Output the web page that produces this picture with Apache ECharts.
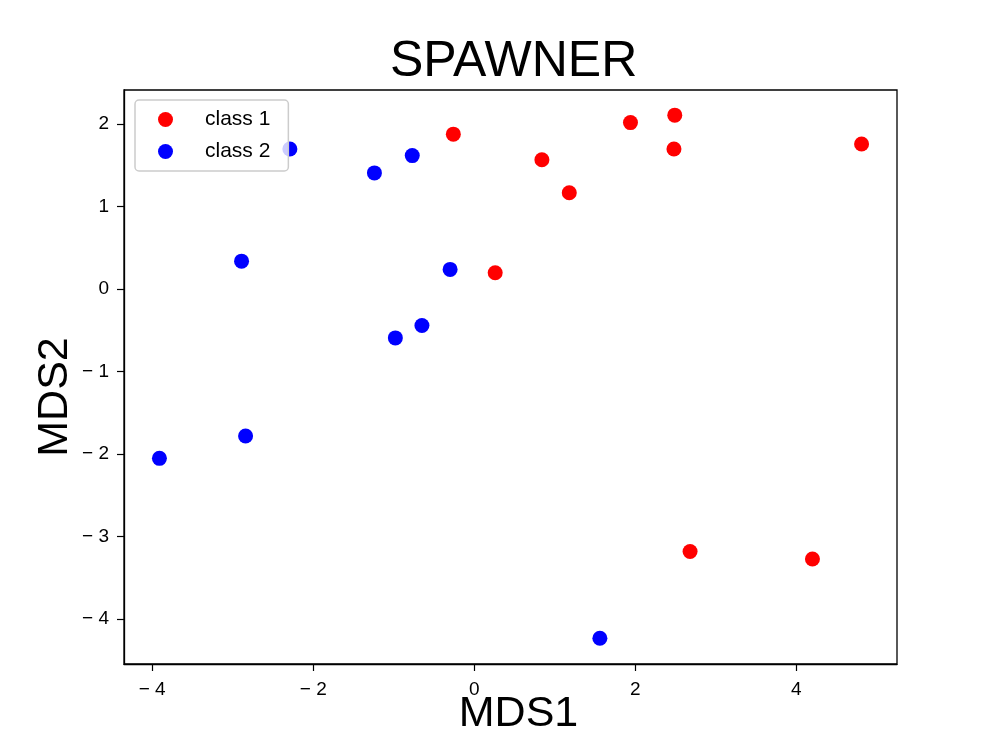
<!DOCTYPE html>
<html>
<head>
<meta charset="utf-8">
<script src="https://cdn.jsdelivr.net/npm/echarts@6/dist/echarts.min.js"></script>
<style>
  html, body { margin: 0; padding: 0; background: #fff; }
  #main { width: 997px; height: 748px; }
</style>
</head>
<body>
<div id="main"></div>
<script>
// MDS coordinates
var class1X = [-0.26, 0.84, 1.18, 1.94, 2.49, 2.48, 4.81, 0.26, 2.68, 4.20];
var class1Y = [1.88, 1.57, 1.17, 2.02, 2.11, 1.70, 1.76, 0.20, -3.18, -3.27];
var class2X = [-2.29, -0.77, -1.24, -2.89, -0.30, -0.65, -0.98, -2.84, -3.91, 1.56];
var class2Y = [1.70, 1.62, 1.41, 0.34, 0.24, -0.44, -0.59, -1.78, -2.05, -4.23];

var xTicks = [-4, -2, 0, 2, 4];
var yTicks = [-4, -3, -2, -1, 0, 1, 2];

var FONT = 'Liberation Sans';

function pairs(xs, ys) {
    var out = [];
    for (var i = 0; i < xs.length; i++) out.push([xs[i], ys[i]]);
    return out;
}

// matplotlib style minus sign
function tickFmt(v) {
    return v < 0 ? '\u2212 ' + (-v) : String(v);
}

var myChart = echarts.init(document.getElementById('main'));

var option = {
    backgroundColor: '#ffffff',
    animation: false,
    title: {
        text: 'SPAWNER',
        left: 390,
        top: 37,
        padding: 0,
        textStyle: { fontFamily: FONT, fontSize: 50, fontWeight: 'normal', color: '#000' }
    },
    legend: {
        orient: 'vertical',
        left: 135,
        top: 100,
        padding: [9, 18, 9, 23],
        itemGap: 11,
        itemWidth: 15,
        itemHeight: 15,
        icon: 'circle',
        backgroundColor: 'rgba(255,255,255,0.8)',
        borderColor: '#cccccc',
        borderWidth: 1.5,
        borderRadius: 4,
        textStyle: { fontFamily: FONT, fontSize: 21, color: '#000', lineHeight: 20, padding: [0, 0, 0, 27] },
        data: ['class 1', 'class 2']
    },
    grid: {
        left: 124,
        top: 90,
        right: 100,
        bottom: 84,
        containLabel: false,
        outerBoundsMode: 'none',
        show: true,
        borderColor: '#000',
        borderWidth: 1.3,
        backgroundColor: '#fff'
    },
    xAxis: {
        type: 'value',
        min: -4.35,
        max: 5.25,
        name: 'MDS1',
        nameLocation: 'middle',
        nameGap: 29,
        nameMoveOverlap: false,
        nameTextStyle: { fontFamily: FONT, fontSize: 43, color: '#000', padding: [0, 0, 0, 16] },
        axisLine: { show: true, onZero: false, lineStyle: { color: '#000', width: 1.3 } },
        axisTick: { show: true, length: 7, lineStyle: { color: '#000', width: 1.2 }, customValues: xTicks },
        axisLabel: { fontFamily: FONT, fontSize: 19, color: '#000', margin: 16, customValues: xTicks, formatter: tickFmt },
        splitLine: { show: false }
    },
    yAxis: {
        type: 'value',
        min: -4.543,
        max: 2.415,
        name: 'MDS2',
        nameLocation: 'middle',
        nameGap: 47,
        nameMoveOverlap: false,
        nameTextStyle: { fontFamily: FONT, fontSize: 43, color: '#000', padding: [0, 40, 0, 0] },
        axisLine: { show: true, onZero: false, lineStyle: { color: '#000', width: 1.3 } },
        axisTick: { show: true, length: 7, lineStyle: { color: '#000', width: 1.2 }, customValues: yTicks },
        axisLabel: { fontFamily: FONT, fontSize: 19, color: '#000', margin: 15, customValues: yTicks, formatter: tickFmt },
        splitLine: { show: false }
    },
    series: [
        {
            name: 'class 1',
            type: 'scatter',
            symbol: 'circle',
            symbolSize: 15,
            itemStyle: { color: '#ff0000', opacity: 1 },
            data: pairs(class1X, class1Y)
        },
        {
            name: 'class 2',
            type: 'scatter',
            symbol: 'circle',
            symbolSize: 15,
            itemStyle: { color: '#0000ff', opacity: 1 },
            data: pairs(class2X, class2Y)
        }
    ]
};

myChart.setOption(option);
</script>
</body>
</html>
